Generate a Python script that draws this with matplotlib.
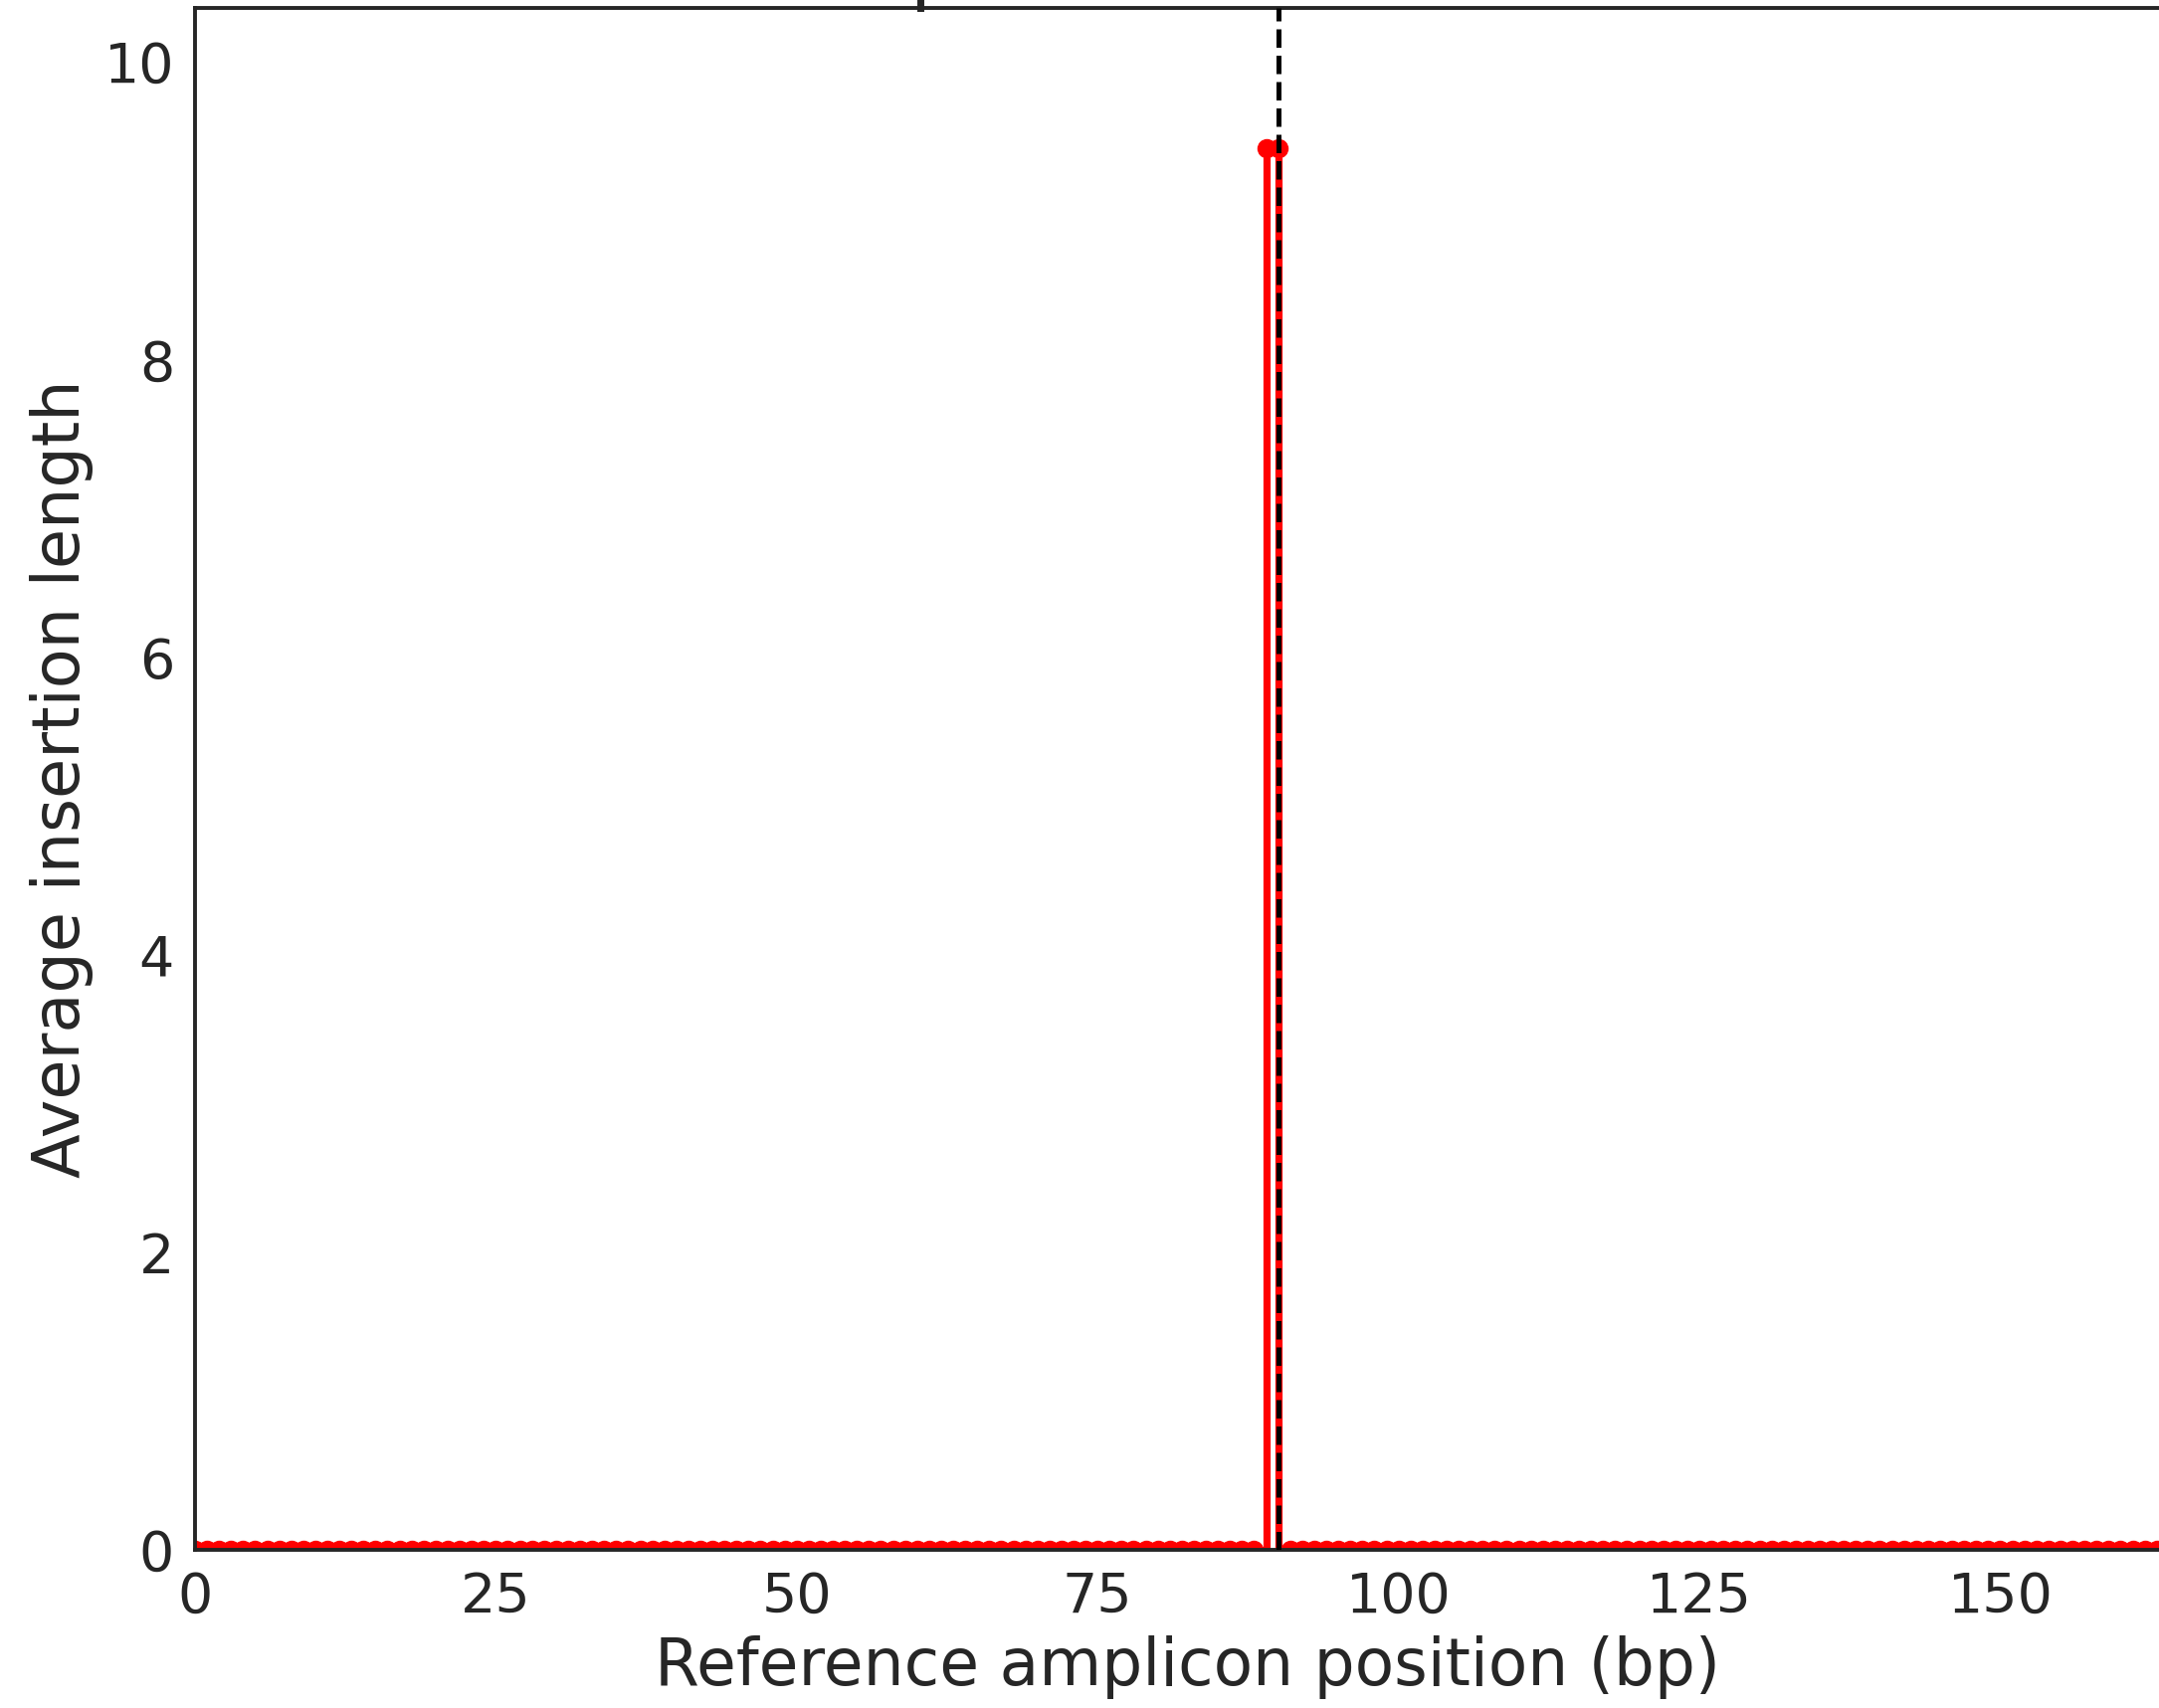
import numpy as np
import matplotlib
matplotlib.use("Agg")
import matplotlib.pyplot as plt
from matplotlib.lines import Line2D
import matplotlib.transforms as mtransforms

# ---- data ----
positions = np.arange(0, 166)
spike_positions = [89, 90]
spike_value = 9.42
avg_insertion_length = np.zeros(len(positions))
for p in spike_positions:
    avg_insertion_length[p] = spike_value
cut_site = 90
x_ticks = [0, 25, 50, 75, 100, 125, 150]
y_ticks = [0, 2, 4, 6, 8, 10]
x_label = "Reference amplicon position (bp)"
y_label = "Average insertion length"

TEXT = "#262626"

fig = plt.figure(figsize=(21.7, 17.17), dpi=100)
ax = fig.add_axes([0.0903, 0.0926, 0.9198, 0.9027])

# build line path (vertical rises/falls at spike positions)
xs, ys = [], []
prev = 0.0
for p, v in zip(positions, avg_insertion_length):
    if v > 0 and prev == 0:
        xs += [p, p]; ys += [0, v]
    elif v > 0:
        xs.append(p); ys.append(v)
    elif prev > 0:
        xs += [xs[-1], p]; ys += [0, 0]
    else:
        xs.append(p); ys.append(0)
    prev = v

ax.plot(xs, ys, color="red", lw=5.2, solid_capstyle="butt", zorder=2)
ax.plot(positions, avg_insertion_length, "o", color="red", markersize=13,
        markeredgewidth=1, zorder=2)
ax.axvline(cut_site, color="black", lw=3.6, ls="--", zorder=3)

ax.set_xlim(0, 165)
ax.set_ylim(0, avg_insertion_length.max() * 1.1)
ax.set_xticks(x_ticks)
ax.set_yticks(y_ticks)
ax.tick_params(length=0, labelsize=40, colors=TEXT, pad=15)
ax.set_xlabel(x_label, fontsize=46.5, color=TEXT, labelpad=8)
ax.set_ylabel(y_label, fontsize=47, color=TEXT, labelpad=8)
for s in ax.spines.values():
    s.set_color(TEXT)
    s.set_linewidth(2.8)

# small tick fragment above top spine (from neighbouring panel)
trans = mtransforms.blended_transform_factory(ax.transData, fig.transFigure)
fig.add_artist(Line2D([60.3, 60.3], [0.9953, 1.0], transform=trans,
                      color=TEXT, lw=5))

fig.savefig("out.png", dpi=100)
